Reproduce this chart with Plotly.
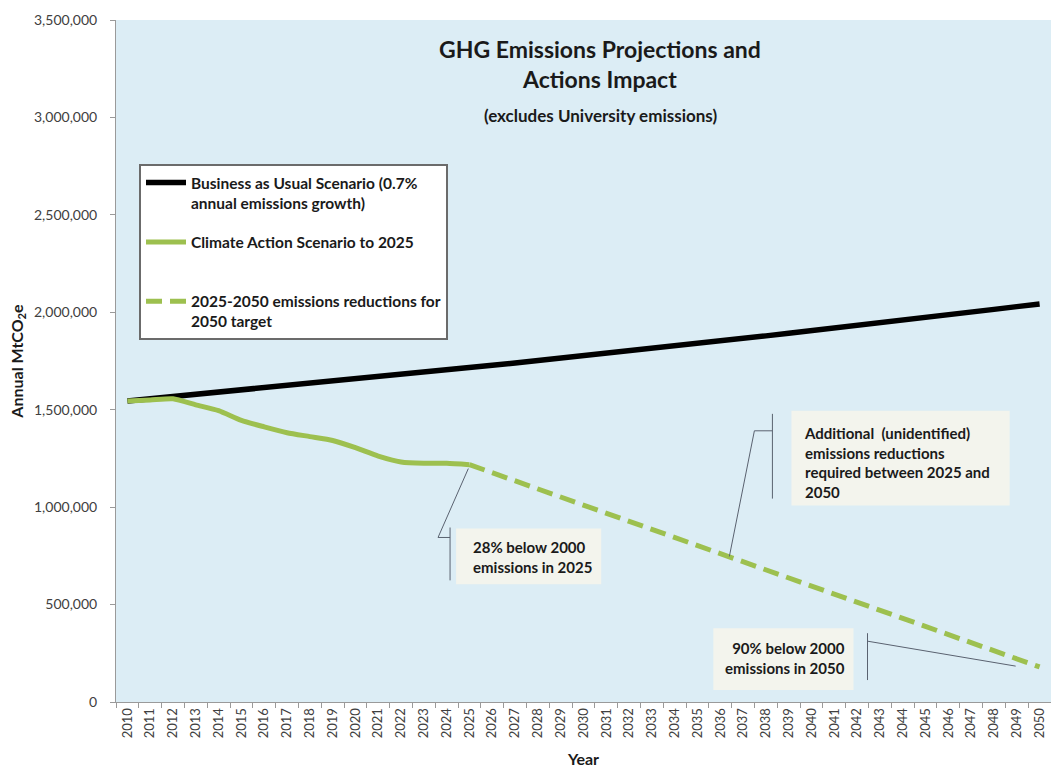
import plotly.graph_objects as go

years = list(range(2010, 2051))
bau = [1545000, 1556000, 1567000, 1578000, 1589000, 1600000, 1611000, 1622000, 1634000, 1645000,
       1657000, 1668000, 1680000, 1692000, 1704000, 1716000, 1728000, 1740000, 1752000, 1764000,
       1777000, 1789000, 1802000, 1814000, 1827000, 1840000, 1853000, 1866000, 1879000, 1892000,
       1905000, 1919000, 1932000, 1946000, 1959000, 1973000, 1987000, 2001000, 2015000, 2029000,
       2043000]
cas_years = list(range(2010, 2026))
cas = [1545000, 1550000, 1556000, 1525000, 1495000, 1445000, 1412000, 1382000, 1362000, 1342000,
       1305000, 1262000, 1232000, 1225000, 1225000, 1218000]
target_years = [2025, 2050]
target = [1218000, 180000]
y_ticks = [0, 500000, 1000000, 1500000, 2000000, 2500000, 3000000, 3500000]

FONT = "Lato"
GREEN = "#9dc04f"
TXT = "#1a1a1a"

fig = go.Figure()
fig.add_trace(go.Scatter(x=years, y=bau, mode="lines", line=dict(color="black", width=5.5),
                         name="<b>Business as Usual Scenario (0.7%<br>annual emissions growth)</b>",
                         legendgroup="a"))
fig.add_trace(go.Scatter(x=cas_years, y=cas, mode="lines",
                         line=dict(color=GREEN, width=5, shape="spline", smoothing=0.6),
                         name="<b>Climate Action Scenario to 2025</b><br>&nbsp;", legendgroup="b"))
fig.add_trace(go.Scatter(x=target_years, y=target, mode="lines",
                         line=dict(color=GREEN, width=5, dash="16px,8px"),
                         name="<b>2025-2050 emissions reductions for<br>2050 target</b>", legendgroup="c"))

def px2x(p):
    return 2010 + (p - 126.7) / 22.78

def px2y(p):
    return (702 - p) * 3500000 / 684

line_style = dict(color="#5a6270", width=1)
x25 = cas_years[-1]
y25 = cas[-1]
pts1 = [(x25 - 0.05, y25 - 20000), (px2x(437), px2y(537)), (px2x(449), px2y(537))]
pts2 = [(px2x(728), px2y(556)), (px2x(753), px2y(430)), (px2x(771), px2y(430))]
pts3 = [(px2x(866), px2y(641)), (px2x(1014), px2y(666))]

def poly(pts):
    d = "M {} {}".format(*pts[0])
    for p in pts[1:]:
        d += " L {} {}".format(*p)
    return d

shapes = []
bg = "rgba(255,248,232,0.65)"
shapes.append(dict(type="rect", xref="x", yref="y", x0=px2x(455), x1=px2x(600), y0=px2y(584), y1=px2y(528),
                   fillcolor=bg, line=dict(width=0), layer="below"))
shapes.append(dict(type="rect", xref="x", yref="y", x0=px2x(790), x1=px2x(1008), y0=px2y(505), y1=px2y(410),
                   fillcolor=bg, line=dict(width=0), layer="below"))
shapes.append(dict(type="rect", xref="x", yref="y", x0=px2x(712), x1=px2x(852), y0=px2y(690), y1=px2y(628),
                   fillcolor=bg, line=dict(width=0), layer="below"))
for pts in (pts1, pts2, pts3):
    shapes.append(dict(type="path", xref="x", yref="y", path=poly(pts), line=line_style))
shapes.append(dict(type="line", xref="x", yref="y", x0=px2x(449), x1=px2x(449), y0=px2y(527), y1=px2y(580), line=line_style))
shapes.append(dict(type="line", xref="x", yref="y", x0=px2x(771), x1=px2x(771), y0=px2y(413), y1=px2y(498), line=line_style))
shapes.append(dict(type="line", xref="x", yref="y", x0=px2x(866), x1=px2x(866), y0=px2y(633), y1=px2y(680), line=line_style))

annotations = [
    dict(text="<b>GHG Emissions Projections and<br>Actions Impact</b>", xref="paper", yref="paper",
         x=(600 - 116) / 935, y=(702 - 64) / 682, xanchor="center", yanchor="middle", showarrow=False,
         font=dict(family=FONT, size=23, color=TXT)),
    dict(text="<b>(excludes University emissions)</b>", xref="paper", yref="paper",
         x=(600 - 116) / 935, y=(702 - 116) / 682, xanchor="center", yanchor="middle", showarrow=False,
         font=dict(family=FONT, size=17, color=TXT)),
    dict(text="<b>28% below 2000<br>emissions in 2025</b>", xref="x", yref="y", x=px2x(470), y=px2y(557),
         xanchor="left", yanchor="middle", align="left", showarrow=False,
         font=dict(family=FONT, size=15, color=TXT)),
    dict(text="<b>Additional  (unidentified)<br>emissions reductions<br>required between 2025 and<br>2050</b>",
         xref="x", yref="y", x=px2x(801), y=px2y(462), xanchor="left", yanchor="middle", align="left",
         showarrow=False, font=dict(family=FONT, size=15, color=TXT)),
    dict(text="<b>90% below 2000<br>emissions in 2050</b>", xref="x", yref="y", x=px2x(846), y=px2y(658),
         xanchor="right", yanchor="middle", align="right", showarrow=False,
         font=dict(family=FONT, size=15, color=TXT)),
]

fig.update_layout(
    width=1057, height=774,
    margin=dict(l=116, r=6, t=20, b=72, autoexpand=False),
    paper_bgcolor="white",
    plot_bgcolor="#dcedf5",
    font=dict(family=FONT, color="#404040"),
    shapes=shapes,
    annotations=annotations,
    showlegend=True,
    legend=dict(x=(139 - 116) / 935, y=(702 - 164) / 682, xanchor="left", yanchor="top",
                bgcolor="white", bordercolor="#6b6b6b", borderwidth=2, valign="top",
                font=dict(family=FONT, size=15.5, color=TXT), tracegroupgap=16,
                itemwidth=40, traceorder="grouped"),
    xaxis=dict(range=[2009.5, 2050.5], tickvals=years, ticktext=[str(y) for y in years],
               tickangle=-90, ticks="", showgrid=False, zeroline=False,
               showline=True, linecolor="#9a9a9a", linewidth=1,
               tickfont=dict(family=FONT, size=13, color="#404040"),
               minor=dict(tickvals=[y + 0.5 for y in years[:-1]] + [2009.5], ticks="outside", ticklen=5,
                          tickcolor="#9a9a9a", showgrid=False),
               title=dict(text="<b>Year</b>", font=dict(family=FONT, size=16, color=TXT), standoff=16)),
    yaxis=dict(range=[0, 3500000], tickvals=y_ticks, tickformat=",d", showgrid=False, zeroline=False,
               showline=True, linecolor="#9a9a9a", linewidth=1, ticks="outside", ticklen=5,
               tickcolor="#9a9a9a", tickfont=dict(family=FONT, size=14, color="#404040"),
               ticklabelstandoff=10,
               title=dict(text="<b>Annual MtCO<sub>2</sub>e</b>", font=dict(family=FONT, size=16, color=TXT),
                          standoff=6)),
)

fig.write_html("out.html", post_script="document.body.style.margin='0px';",
               config={"displayModeBar": False})
